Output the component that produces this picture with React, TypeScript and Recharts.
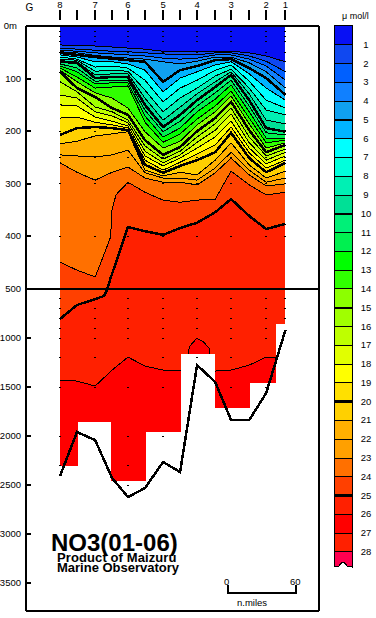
import { Area, Bar, BarChart, ComposedChart, Line, ReferenceLine, Scatter, XAxis, YAxis } from 'recharts';

const FONT = '"Liberation Sans", Arial, sans-serif';

// x = nautical miles from station 8
const nodeMiles = [0, 15, 31, 46, 60, 75, 91, 106, 121, 137, 151, 167, 182, 199];
const stationMiles = [0, 31, 60, 91, 121, 151, 182, 199];
const stationNames = ['8', '7', '6', '5', '4', '3', '2', '1'];
const stationMaxDepth = [2300, 1900, 2500, 2000, 1200, 1700, 1500, 850];
const sampleDepths = [10, 20, 30, 50, 200, 250, 300, 400, 500, 600, 700, 800, 900, 1000, 1200, 1500, 2000, 2300, 2500];

const depthTicks = [0, 100, 200, 300, 400, 500, 1000, 1500, 2000, 2500, 3000, 3500];
const maxDepth = 3785;

// depth (m) of each NO3 contour at nodeMiles
const level1 = [36, 37, 38, 40, 42, 44, 48, 49, 49, 48, 48, 51, 57, 68];
const level2 = [42, 44, 46, 48, 49, 51, 53, 55, 55, 51, 51, 57, 67, 87];
const level3 = [46, 48, 51, 53, 55, 57, 61, 63, 61, 55, 55, 63, 76, 103];
const level4 = [49, 51, 56, 59, 61, 63, 68, 72, 67, 59, 59, 70, 87, 118];
const level5 = [51, 55, 59, 62, 65, 68, 106, 84, 76, 65, 63, 80, 99, 131];
const level6 = [55, 59, 68, 68, 72, 84, 125, 99, 87, 74, 68, 91, 118, 141];
const level7 = [59, 63, 78, 76, 80, 103, 144, 118, 103, 84, 74, 105, 141, 156];
const level8 = [63, 65, 86, 84, 86, 122, 163, 137, 118, 95, 82, 118, 160, 169];
const level9 = [66, 68, 93, 91, 91, 137, 179, 154, 129, 106, 87, 129, 179, 186];
const level10 = [68, 70, 99, 97, 97, 150, 192, 169, 141, 116, 93, 141, 194, 201];
const level11 = [72, 80, 105, 103, 103, 160, 201, 181, 152, 127, 103, 152, 203, 207];
const level12 = [76, 87, 110, 108, 108, 171, 211, 194, 163, 139, 112, 163, 213, 213];
const level13 = [80, 97, 118, 116, 114, 183, 221, 205, 177, 152, 124, 175, 222, 217];
const level14 = [84, 106, 127, 137, 156, 201, 232, 219, 188, 163, 133, 186, 232, 222];
const level15 = [87, 118, 135, 156, 169, 217, 245, 230, 200, 175, 144, 198, 240, 226];
const level16 = [106, 125, 154, 163, 179, 228, 253, 238, 211, 186, 156, 211, 247, 234];
const level17 = [131, 137, 163, 171, 184, 238, 260, 245, 221, 198, 167, 222, 255, 240];
const level18 = [150, 152, 173, 181, 190, 247, 266, 251, 232, 211, 181, 232, 262, 247];
const level19 = [175, 173, 183, 188, 194, 255, 274, 259, 243, 226, 192, 241, 270, 255];
const level20 = [207, 194, 192, 194, 198, 264, 279, 266, 255, 240, 203, 251, 278, 260];
const level21 = [224, 219, 209, 205, 201, 274, 285, 278, 283, 255, 222, 264, 289, 276];
const level22 = [245, 247, 249, 245, 236, 279, 289, 289, 293, 270, 240, 274, 297, 289];
const level23 = [260, 278, 293, 278, 268, 289, 297, 297, 302, 279, 251, 283, 304, 300];
const contours = [
  level1, level2, level3, level4, level5, level6, level7, level8, level9, level10, level11, level12, level13,
  level14, level15, level16, level17, level18, level19, level20, level21, level22, level23,
];

// the deep contours bend more sharply, so they have their own nodes
const level24Miles = [0, 15, 31, 35.3, 44.7, 45.9, 49.4, 60, 75, 91, 106, 121, 137, 151, 167, 182, 199];
const level24Depths = [449, 464, 477, 454, 401, 350, 321, 297, 316, 331, 335, 331, 329, 276, 302, 321, 316];
const level25Miles = [0, 15, 31, 38.8, 41.5, 44.1, 53, 60, 75, 91, 106, 121, 137, 151, 167, 182, 199];
const level25Depths = [806, 663, 602, 571, 510, 483, 426, 382, 390, 397, 384, 374, 354, 329, 361, 386, 376];
const level26Miles = [0, 15, 31, 46, 60, 75, 91, 106, 112, 113.2, 114.1, 120.7, 126.5, 131.8, 132.4, 134.2, 137, 151, 167, 182, 199];
const level26Depths = [1429, 1439, 1490, 1327, 1194, 1286, 1327, 1327, 1327, 1163, 1089, 1003, 1038, 1105, 1163, 1337, 1337, 1327, 1276, 1194, 1204];

// stepped sea-floor mask
const maskMiles = [0, 16, 45, 76, 107, 137, 168, 191, 199];
const maskDepths = [2306, 1857, 2456, 1959, 1163, 1711, 1456, 857, 857];

const bottomMiles = [0, 15, 31, 46, 60, 75, 91, 106, 121, 137, 151, 167, 182, 199];
const bottomDepths = [2408, 1959, 2041, 2429, 2622, 2531, 2265, 2367, 1276, 1449, 1837, 1837, 1561, 918];

const scaleBarMiles = [148, 148, 208, 208];
const scaleBarDepths = [3520, 3600, 3600, 3520];

const bandColors = [
  '#0810f4', '#1048f0', '#0060ff', '#1080ff', '#10a0f0', '#00b4ff', '#00ffff', '#00ffdc', '#00f0b4', '#00e096',
  '#00f078', '#00f050', '#00ff00', '#30ff00', '#8cff00', '#a0ff00', '#beff00', '#e1ff00', '#ffff00', '#ffe000',
  '#ffd000', '#ffb000', '#ffa000', '#ff7000', '#ff4000', '#ff2000', '#ff0000', '#ff2000', '#ff0050',
];
const legendLevels = Array.from({ length: 28 }, (_, i) => i + 1);

// depths below 500 m are drawn compressed
const warp = (d: number) => (d <= 500 ? d : 500 + (d - 500) * 0.1863);

const toRows = (miles: number[], depths: number[]) => miles.map((mile, i) => ({ mile, depth: warp(depths[i]) }));

const rows = nodeMiles.map((mile, i) => {
  const row: Record<string, number> = { mile, surface: 0 };
  contours.forEach((c, k) => {
    row[`L${k + 1}`] = warp(c[i]);
  });
  return row;
});
const deepContours = [
  { level: 24, data: toRows(level24Miles, level24Depths) },
  { level: 25, data: toRows(level25Miles, level25Depths) },
  { level: 26, data: toRows(level26Miles, level26Depths) },
];
const maskRows = toRows(maskMiles, maskDepths);
const bottomRows = toRows(bottomMiles, bottomDepths);
const scaleRows = toRows(scaleBarMiles, scaleBarDepths);
const samplePoints = stationMiles.flatMap((mile, i) =>
  sampleDepths.filter((d) => d <= stationMaxDepth[i]).map((d) => ({ mile, depth: warp(d) })),
);
const legendRow: Record<string, number | string> = { name: 'NO3' };
bandColors.forEach((_, k) => {
  legendRow[`band${k}`] = k === 28 ? 0.8 : 1;
});

const yDomain = [0, warp(maxDepth)];
const xDomain = [-30, 228.6];

const LeftTick = ({ y, payload }: any) => {
  const real = depthTicks[payload.index];
  return (
    <g>
      <line x1={26} x2={31} y1={y} y2={y} stroke="#000" strokeWidth={2} />
      <text x={real === 0 ? 17 : 21} y={y + 3} textAnchor="end" fontSize={9.5} fontFamily={FONT} fill="#000">
        {real === 0 ? '0m' : real}
      </text>
    </g>
  );
};

const RightTick = ({ y, payload }: any) => {
  const real = depthTicks[payload.index];
  if (real === 0 || real === 500) return <g />;
  return <line x1={314} x2={319} y1={y} y2={y} stroke="#000" strokeWidth={2} />;
};

const TopTick = ({ x, payload }: any) => {
  if (payload.value < 0) {
    return (
      <text x={x} y={11} textAnchor="middle" fontSize={10} fontFamily={FONT} fill="#000">
        G
      </text>
    );
  }
  const station = stationMiles.indexOf(payload.value);
  return (
    <g>
      <line x1={x} x2={x} y1={10} y2={20} stroke="#000" strokeWidth={2} />
      {station >= 0 && (
        <text x={x} y={8} textAnchor="middle" fontSize={9.5} fontFamily={FONT} fill="#000">
          {stationNames[station]}
        </text>
      )}
    </g>
  );
};

const LegendTick = ({ y, payload }: any) => (
  <text x={366} y={y + 3} textAnchor="middle" fontSize={9.5} fontFamily={FONT} fill="#000">
    {payload.value}
  </text>
);

const SampleDot = ({ cx, cy }: any) => <rect x={cx - 1} y={cy - 0.5} width={2} height={1} fill="#000" />;

// last colour box has a torn lower edge; the axis is reversed so height can come in negative
const WavyBand = ({ x, y, width, height, fill }: any) => {
  const top = Math.min(y, y + height);
  const bottom = Math.max(y, y + height);
  return (
    <path
      d={`M${x} ${top}H${x + width}V${bottom}L${x + width - 5} ${bottom - 1}Q${x + width / 2} ${bottom - 8} ${x + 5} ${bottom - 1}L${x} ${bottom}Z`}
      fill={fill}
      stroke="#000"
    />
  );
};

const label = (text: string, left: number, top: number, style = {}) => (
  <div
    style={{
      position: 'absolute',
      left,
      top,
      fontFamily: FONT,
      fontSize: 9.5,
      lineHeight: 1,
      whiteSpace: 'nowrap',
      color: '#000',
      ...style,
    }}
  >
    {text}
  </div>
);

const App = () => (
  <div style={{ position: 'absolute', left: 0, top: 0, width: 376, height: 618, background: '#fff', overflow: 'hidden', shapeRendering: 'crispEdges' }}>
    <div style={{ position: 'absolute', left: 0, top: 0 }}>
      <ComposedChart width={376} height={618} data={rows} margin={{ top: 0, right: 0, bottom: 0, left: 0 }}>
        <XAxis
          dataKey="mile"
          type="number"
          orientation="top"
          height={26}
          domain={xDomain}
          ticks={[-27, ...nodeMiles]}
          interval={0}
          tick={<TopTick />}
          tickLine={false}
          axisLine={{ stroke: '#000', strokeWidth: 2.5 }}
          allowDataOverflow
        />
        <XAxis xAxisId="bottom" type="number" orientation="bottom" height={7} domain={xDomain} tick={false} tickLine={false} axisLine={{ stroke: '#000', strokeWidth: 2.5 }} />
        <YAxis
          type="number"
          width={26}
          reversed
          domain={yDomain}
          ticks={depthTicks.map(warp)}
          interval={0}
          tick={<LeftTick />}
          tickLine={false}
          axisLine={{ stroke: '#000', strokeWidth: 2.5 }}
          allowDataOverflow
        />
        <YAxis
          yAxisId="right"
          type="number"
          orientation="right"
          width={57}
          reversed
          domain={yDomain}
          ticks={depthTicks.map(warp)}
          interval={0}
          tick={<RightTick />}
          tickLine={false}
          axisLine={{ stroke: '#000', strokeWidth: 2.5 }}
        />
        <Area dataKey="surface" type="linear" baseValue={yDomain[1]} fill={bandColors[0]} fillOpacity={1} stroke="none" isAnimationActive={false} />
        {contours.map((_, k) => (
          <Area
            key={k}
            dataKey={`L${k + 1}`}
            type="linear"
            baseValue={yDomain[1]}
            fill={bandColors[k + 1]}
            fillOpacity={1}
            stroke="#000"
            strokeWidth={(k + 1) % 5 === 0 ? 2.5 : 1}
            isAnimationActive={false}
          />
        ))}
        {deepContours.map((c) => (
          <Area
            key={c.level}
            data={c.data}
            dataKey="depth"
            type="linear"
            baseValue={yDomain[1]}
            fill={bandColors[c.level]}
            fillOpacity={1}
            stroke="#000"
            strokeWidth={c.level === 25 ? 2.5 : 1}
            isAnimationActive={false}
          />
        ))}
        <Area data={maskRows} dataKey="depth" type="stepAfter" baseValue={yDomain[1]} fill="#fff" fillOpacity={1} stroke="none" isAnimationActive={false} />
        <Scatter data={samplePoints} dataKey="depth" shape={<SampleDot />} isAnimationActive={false} />
        <Line data={bottomRows} dataKey="depth" type="linear" stroke="#000" strokeWidth={2.5} dot={false} isAnimationActive={false} />
        <Line data={scaleRows} dataKey="depth" type="linear" stroke="#000" strokeWidth={2} dot={false} isAnimationActive={false} />
        <ReferenceLine y={warp(500)} stroke="#000" strokeWidth={2} />
      </ComposedChart>
    </div>
    <div style={{ position: 'absolute', left: 0, top: 0 }}>
      <BarChart width={376} height={618} data={[legendRow]} barCategoryGap={0} margin={{ top: 26, right: 0, bottom: 51, left: 334 }}>
        <XAxis dataKey="name" hide />
        <YAxis
          type="number"
          orientation="right"
          width={24}
          reversed
          domain={[0, 28.8]}
          ticks={legendLevels}
          interval={0}
          tick={<LegendTick />}
          tickLine={false}
          axisLine={false}
        />
        {bandColors.map((color, k) => (
          <Bar
            key={k}
            dataKey={`band${k}`}
            stackId="bar"
            fill={color}
            stroke="#000"
            shape={k === 28 ? <WavyBand /> : undefined}
            isAnimationActive={false}
          />
        ))}
        {legendLevels
          .filter((l) => l % 5 === 0)
          .map((l) => (
            <ReferenceLine key={l} y={l} stroke="#000" strokeWidth={2.5} />
          ))}
      </BarChart>
    </div>
    {label('\u03bc mol/l', 342, 12, { fontSize: 9 })}
    {label('NO3(01-06)', 51, 531, { fontSize: 24, fontWeight: 700 })}
    {label('Product of Maizuru', 57, 553, { fontSize: 13, fontWeight: 700, letterSpacing: 0.1, lineHeight: '10px' })}
    {label('Marine Observatory', 57, 563, { fontSize: 13, fontWeight: 700, lineHeight: '10px' })}
    {label('0', 224, 577)}
    {label('60', 290, 577)}
    {label('n.miles', 237, 598)}
  </div>
);

export default App;
